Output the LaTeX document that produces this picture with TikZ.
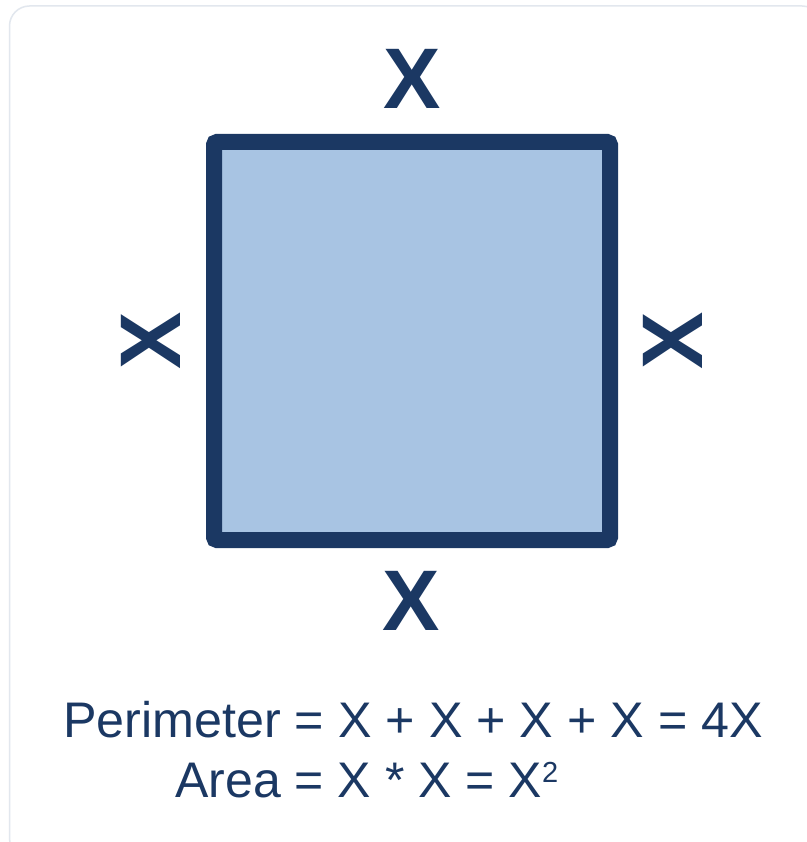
\documentclass[tikz,border=0pt]{standalone}
\usepackage{fontspec}
\setmainfont{Liberation Sans}
\definecolor{navy}{HTML}{1B3863}
\definecolor{lightfill}{HTML}{A8C4E3}
\definecolor{framegray}{HTML}{E2E7EE}
\begin{document}
\begin{tikzpicture}[x=1pt,y=-1pt,
  side/.style={text=navy,inner sep=0pt,font=\fontsize{86}{86}\selectfont\bfseries},
  formula/.style={text=navy,inner sep=0pt,font=\fontsize{50}{50}\selectfont}]
\useasboundingbox (0,0) rectangle (806,842);
\fill[white] (0,0) rectangle (806,842);
\draw[framegray,line width=1.5pt,rounded corners=20pt] (9.5,6) rectangle (822,858);
\node[draw=navy,line width=16pt,fill=lightfill,rounded corners=3pt,
  minimum width=396pt,minimum height=398pt,inner sep=0pt] (sq) at (412,341) {};
\node[side] (top) at (412,79) {X};
\node[side] (bottom) at (411,601) {X};
\node[side,rotate=90] (left) at (151,341) {X};
\node[side,rotate=90] (right) at (673,341) {X};
\node[formula,anchor=base west,xscale=1.005] (perim) at (63,737) {Perimeter = X + X + X + X = 4X};
\node[formula,anchor=base west] (area) at (175,797) {Area = X * X = X\raisebox{15pt}{\fontsize{29}{29}\selectfont 2}};
\end{tikzpicture}
\end{document}
